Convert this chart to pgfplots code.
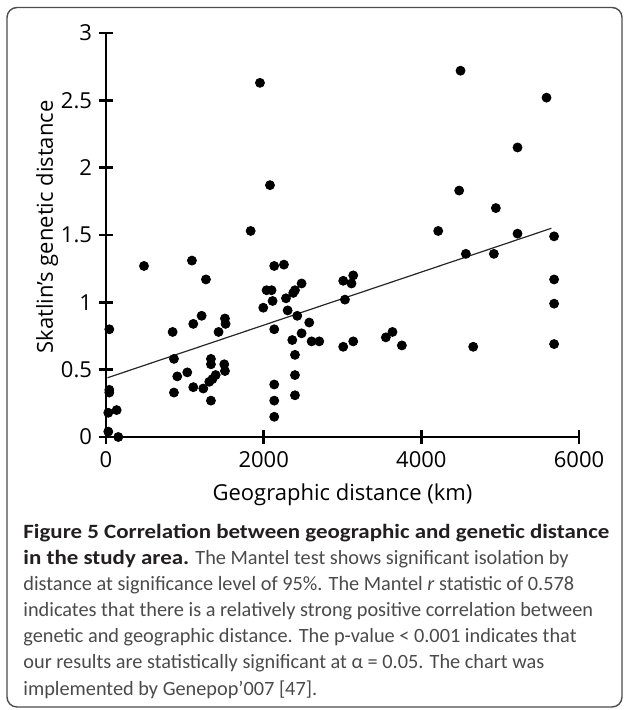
\documentclass[border=0pt]{standalone}
\usepackage{fontspec}
\setmainfont{Open Sans}
\newfontfamily\capfont{Carlito}[BoldFeatures={FakeStretch=1.13}]
\usepackage{pgfplots}
\pgfplotsset{compat=1.18}

\definecolor{captxt}{HTML}{4A4A4A}
\definecolor{capbold}{HTML}{231F20}

\begin{document}
\begin{tikzpicture}
  % page and frame (1 px of the reference = 0.5pt)
  \path (0,0) rectangle (312pt,-355pt);
  \draw[rounded corners=5pt, line width=0.7pt, black!70] (3.5pt,-3.75pt) rectangle (311pt,-353.5pt);

  \begin{axis}[
      at={(53pt,-218.5pt)}, anchor=south west,
      width=236.5pt, height=202pt, scale only axis,
      xmin=0, xmax=6000, ymin=0, ymax=3,
      axis x line=bottom, axis y line=left,
      axis line style={-, line width=1.3pt, black},
      xtick={0,2000,4000,6000},
      ytick={0,0.5,1,1.5,2,2.5,3},
      tick align=center, major tick length=7pt,
      tick style={line width=1.2pt, black},
      /pgf/number format/assume math mode=true,
      /pgf/number format/1000 sep={},
      scaled x ticks=false,
      ticklabel style={font=\fontsize{11}{13}\selectfont},
      yticklabel style={xshift=0pt},
      xlabel={Geographic distance (km)},
      ylabel={Skatlin's genetic distance},
      label style={font=\fontsize{11}{13}\selectfont},
      xlabel style={at={(axis description cs:0.5,0)}, anchor=base, yshift=-31.5pt},
      ylabel style={at={(axis description cs:0,0.5)}, anchor=base, yshift=26.5pt, xshift=4pt},
      clip=false,
    ]

    \addplot[only marks, mark=*, mark size=2.25pt, black] coordinates {
      (42,0.80) (42,0.35) (42,0.33) (135,0.20) (29,0.18) (29,0.04) (156,0.0)
      (482,1.27) (1090,1.31) (1268,1.17) (845,0.78) (1107,0.84) (1213,0.90)
      (1509,0.88) (1517,0.84) (1428,0.78) (862,0.58) (1331,0.58) (1331,0.54)
      (1500,0.54) (1509,0.49) (1031,0.48) (904,0.45) (1391,0.46) (1350,0.43)
      (1310,0.41) (1107,0.37) (1234,0.36) (862,0.33) (1331,0.27)
      (1835,1.53) (1953,2.63) (2080,1.87)
      (1995,0.96) (2037,1.09) (2100,1.09) (2113,1.01) (2134,1.27) (2257,1.28)
      (2283,1.03) (2375,1.07) (2397,1.09) (2481,1.14) (2304,0.94) (2426,0.90)
      (2578,0.85) (2134,0.80) (2363,0.72) (2481,0.77) (2608,0.71) (2705,0.71)
      (2397,0.61) (2397,0.46) (2397,0.31) (2134,0.39) (2134,0.27) (2134,0.15)
      (3009,1.16) (3136,1.20) (3114,1.14) (3031,1.02) (3009,0.67) (3136,0.71)
      (3550,0.74) (3634,0.78) (3753,0.68)
      (4214,1.53) (4497,2.72) (5588,2.52) (5220,2.15) (4480,1.83) (4945,1.70)
      (5220,1.51) (5684,1.49) (4565,1.36) (4920,1.36) (5684,1.17) (5684,0.99)
      (5684,0.69) (4658,0.67)
    };

    % regression line
    \addplot[black!85, line width=0.6pt] coordinates {(20,0.44) (5650,1.55)};
  \end{axis}

  % caption, one node per line as in the reference
  \begin{scope}[every node/.style={anchor=base west, inner sep=0pt,
      font=\capfont\fontsize{10.15}{13}\selectfont, text=captxt}]
    \node at (11.5pt,-269pt) {\textbf{\color{capbold}Figure 5 Correlation between geographic and genetic distance}};
    \node at (11.5pt,-282pt) {\textbf{\color{capbold}in the study area.} The Mantel test shows significant isolation by};
    \node at (11.5pt,-295pt) {distance at significance level of 95\%. The Mantel \textit{r} statistic of 0.578};
    \node at (11.5pt,-308pt) {indicates that there is a relatively strong positive correlation between};
    \node at (11.5pt,-321pt) {genetic and geographic distance. The p-value < 0.001 indicates that};
    \node at (11.5pt,-334pt) {our results are statistically significant at α = 0.05. The chart was};
    \node at (11.5pt,-347.5pt) {implemented by Genepop’007 [47].};
  \end{scope}
\end{tikzpicture}
\end{document}
